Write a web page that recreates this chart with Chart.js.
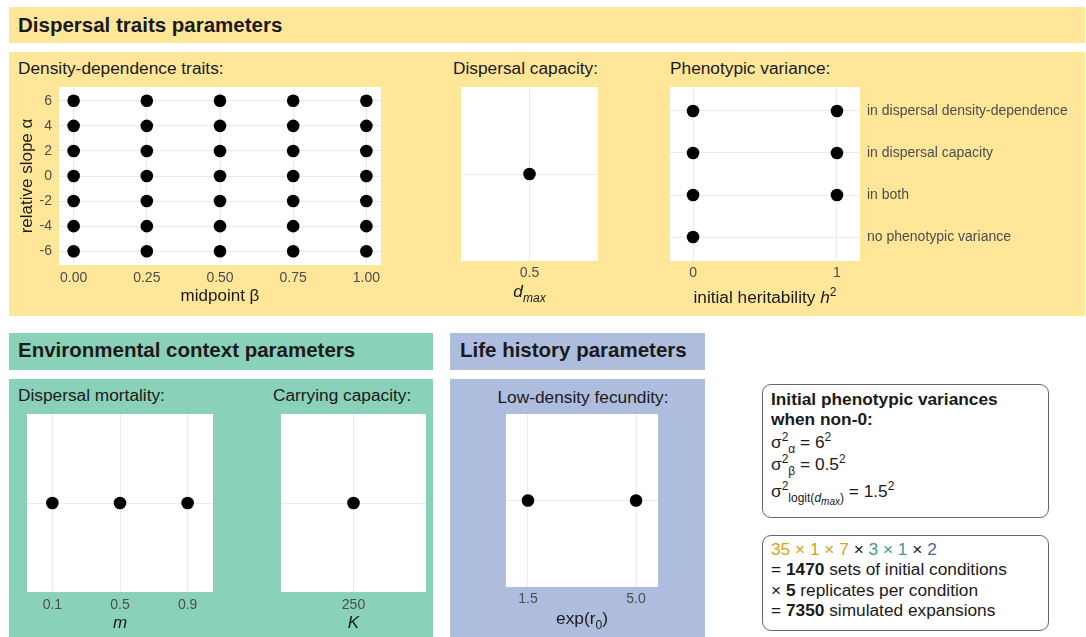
<!DOCTYPE html>
<html>
<head>
<meta charset="utf-8">
<script src="https://cdn.jsdelivr.net/npm/chart.js@4.4.1/dist/chart.umd.min.js"></script>
<style>
  body { margin: 0; background: #fff; }
  #page { position: relative; width: 1086px; height: 637px; overflow: hidden;
          font-family: "Liberation Sans", Arial, sans-serif; color: #1a1a1a; }
  .band { position: absolute; }
  .yellow { background: #FFE699; }
  .green { background: #89D1B9; }
  .blue { background: #AEBCDE; }
  .txt { position: absolute; white-space: nowrap; font-size: 17.3px; line-height: 20px; }
  .head { font-weight: bold; font-size: 20.5px; line-height: 24px; }
  .chart { position: absolute; }
  .box { position: absolute; border: 1.3px solid #666; border-radius: 9px; background: #fff; }
  .sup { font-size: 12px; position: relative; top: -7px; }
  .sub { font-size: 12px; position: relative; top: 5px; }
  .subsub { font-size: 10px; position: relative; top: 3px; }
  .gold { color: #D3A326; }
  .teal { color: #38A27B; }
  .navy { color: #4764A8; }
</style>
</head>
<body>
<div id="page">
  <!-- coloured backgrounds -->
  <div class="band yellow" style="left:9px;top:7px;width:1076px;height:36px"></div>
  <div class="band yellow" style="left:9px;top:52px;width:1076px;height:264px"></div>
  <div class="band green" style="left:9px;top:333px;width:424px;height:37px"></div>
  <div class="band green" style="left:9px;top:379px;width:424px;height:258px"></div>
  <div class="band blue" style="left:450px;top:333px;width:255px;height:37px"></div>
  <div class="band blue" style="left:450px;top:379px;width:255px;height:258px"></div>

  <!-- headings -->
  <div class="txt head" style="left:18px;top:13px">Dispersal traits parameters</div>
  <div class="txt head" style="left:18px;top:338px">Environmental context parameters</div>
  <div class="txt head" style="left:460px;top:338px">Life history parameters</div>

  <div class="txt" style="left:18px;top:58px">Density-dependence traits:</div>
  <div class="txt" style="left:453px;top:58px">Dispersal capacity:</div>
  <div class="txt" style="left:670px;top:58px">Phenotypic variance:</div>
  <div class="txt" style="left:18px;top:385px">Dispersal mortality:</div>
  <div class="txt" style="left:273px;top:385px">Carrying capacity:</div>
  <div class="txt" style="left:450px;width:266px;text-align:center;top:387px">Low-density fecundity:</div>

  <!-- charts -->
  <div class="chart" id="wrapAlpha"><canvas id="alphaChart"></canvas></div>
  <div class="chart" id="wrapDmax"><canvas id="dmaxChart"></canvas></div>
  <div class="chart" id="wrapH2"><canvas id="h2Chart"></canvas></div>
  <div class="chart" id="wrapM"><canvas id="mChart"></canvas></div>
  <div class="chart" id="wrapK"><canvas id="kChart"></canvas></div>
  <div class="chart" id="wrapR0"><canvas id="r0Chart"></canvas></div>

  <!-- axis titles that need sub/superscripts -->
  <div class="txt" style="left:461px;width:137px;text-align:center;top:281px"><i>d</i><span class="sub"><i>max</i></span></div>
  <div class="txt" style="left:640px;width:250px;text-align:center;top:287px">initial heritability <i>h</i><span class="sup">2</span></div>
  <div class="txt" style="left:506px;width:152px;text-align:center;top:608px">exp(r<span class="sub">0</span>)</div>

  <!-- text boxes -->
  <div class="box" style="left:762px;top:384px;width:285px;height:132px"></div>
  <div class="txt" style="left:771px;top:389px;font-weight:bold">Initial phenotypic variances</div>
  <div class="txt" style="left:771px;top:409px;font-weight:bold">when non-0:</div>
  <div class="txt" style="left:771px;top:432px">σ<span class="sup">2</span><span class="sub">α</span> = 6<span class="sup">2</span></div>
  <div class="txt" style="left:771px;top:454px">σ<span class="sup">2</span><span class="sub">β</span> = 0.5<span class="sup">2</span></div>
  <div class="txt" style="left:771px;top:481px">σ<span class="sup">2</span><span class="sub">logit(<i>d</i><span class="subsub"><i>max</i></span>)</span> = 1.5<span class="sup">2</span></div>

  <div class="box" style="left:762px;top:535px;width:285px;height:94px"></div>
  <div class="txt" style="left:771px;top:539px"><span class="gold">35 × 1 × 7</span> × <span class="teal">3 × 1</span> × <span class="navy">2</span></div>
  <div class="txt" style="left:771px;top:559px">= <b>1470</b> sets of initial conditions</div>
  <div class="txt" style="left:771px;top:580px">× <b>5</b> replicates per condition</div>
  <div class="txt" style="left:771px;top:600px">= <b>7350</b> simulated expansions</div>
</div>

<script>
// ===== Data =====
const betaValues = [0, 0.25, 0.5, 0.75, 1];
const alphaValues = [-6, -4, -2, 0, 2, 4, 6];
const betaTickLabels = ["0.00", "0.25", "0.50", "0.75", "1.00"];

const dmaxValues = [0.5];
const dmaxTickLabels = ["0.5"];

const varianceLevels = ["no phenotypic variance", "in both", "in dispersal capacity", "in dispersal density-dependence"];
const heritabilityByLevel = [[0], [0, 1], [0, 1], [0, 1]];
const heritabilityTicks = [0, 1];

const mortalityValues = [0.1, 0.5, 0.9];
const mortalityTickLabels = ["0.1", "0.5", "0.9"];

const capacityValues = [250];
const capacityTickLabels = ["250"];

const fecundityValues = [1.5, 5.0];
const fecundityTickLabels = ["1.5", "5.0"];

// ===== Layout helpers =====
const FONT = '"Liberation Sans", Arial, sans-serif';

function place(id, l, t, r, b, leftW, rightW, bottomH) {
  const el = document.getElementById(id);
  el.style.left = (l - leftW) + "px";
  el.style.top = (t - 1) + "px";
  el.style.width = (r - l + leftW + rightW) + "px";
  el.style.height = (b - t + bottomH + 1) + "px";
}

place("wrapAlpha", 59, 87, 381, 265, 42, 0, 42);
place("wrapDmax", 461, 87, 598, 261, 0, 0, 22);
place("wrapH2", 670, 87, 860, 261, 0, 222, 22);
place("wrapM", 27, 414, 213, 592, 0, 0, 41);
place("wrapK", 281, 414, 426, 592, 0, 0, 41);
place("wrapR0", 506, 414, 658, 587, 0, 0, 22);

// white panel behind the grid
const panelBg = {
  id: "panelBg",
  beforeDraw(chart) {
    const { ctx, chartArea: a } = chart;
    ctx.save();
    ctx.fillStyle = "#fff";
    ctx.fillRect(a.left, a.top, a.right - a.left, a.bottom - a.top);
    ctx.restore();
  }
};

function axis(o) {
  return {
    type: "linear",
    position: o.position,
    min: o.min,
    max: o.max,
    afterBuildTicks: s => { s.ticks = o.ticks.map(v => ({ value: v })); },
    afterFit: s => {
      if (o.position === "bottom") s.height = o.size; else s.width = o.size;
      // labels never reach the panel edges here, so no extra room is needed
      s.paddingTop = s.paddingBottom = s.paddingLeft = s.paddingRight = 0;
    },
    grid: { color: "#EBEBEB", lineWidth: 1, drawTicks: false },
    border: { display: false },
    ticks: {
      display: !!o.labels,
      autoSkip: false,
      maxRotation: 0,
      padding: o.padding || 4,
      color: "#4D4D4D",
      font: { family: FONT, size: 14 },
      callback: (v, i) => o.labels ? o.labels[i] : ""
    },
    title: {
      display: !!o.title,
      text: o.title || "",
      color: "#1a1a1a",
      padding: 0,
      font: { family: FONT, size: 17, style: o.italic ? "italic" : "normal" }
    }
  };
}

function scatterPanel(canvasId, points, xOpts, yOpts) {
  return new Chart(document.getElementById(canvasId), {
    type: "scatter",
    data: {
      datasets: [{
        data: points,
        backgroundColor: "#000",
        borderColor: "#000",
        borderWidth: 0,
        pointRadius: 6.3,
        pointHoverRadius: 6.3
      }]
    },
    options: {
      responsive: true,
      maintainAspectRatio: false,
      animation: false,
      layout: { autoPadding: false, padding: { top: 1, left: 0, right: 0, bottom: 0 } },
      plugins: { legend: { display: false }, tooltip: { enabled: false } },
      scales: {
        x: axis(Object.assign({ position: "bottom" }, xOpts)),
        y: axis(Object.assign({ position: "left" }, yOpts))
      }
    },
    plugins: [panelBg]
  });
}

// ===== Charts =====
scatterPanel("alphaChart",
  betaValues.flatMap(b => alphaValues.map(a => ({ x: b, y: a }))),
  { min: -0.05, max: 1.05, ticks: betaValues, labels: betaTickLabels, size: 42, padding: 5, title: "midpoint β" },
  { min: -7.1, max: 7.1, ticks: alphaValues, labels: alphaValues.map(String), size: 42, padding: 7, title: "relative slope α" });

scatterPanel("dmaxChart",
  dmaxValues.map(d => ({ x: d, y: 0 })),
  { min: 0.4, max: 0.6, ticks: dmaxValues, labels: dmaxTickLabels, size: 22, padding: 4 },
  { min: -1, max: 1, ticks: [0], size: 0 });

scatterPanel("h2Chart",
  heritabilityByLevel.flatMap((hs, i) => hs.map(h => ({ x: h, y: i + 1 }))),
  { min: -0.16, max: 1.16, ticks: heritabilityTicks, labels: heritabilityTicks.map(String), size: 22, padding: 4 },
  { position: "right", min: 0.43, max: 4.57, ticks: [1, 2, 3, 4], labels: varianceLevels, size: 222, padding: 7 });

scatterPanel("mChart",
  mortalityValues.map(m => ({ x: m, y: 0 })),
  { min: -0.05, max: 1.05, ticks: mortalityValues, labels: mortalityTickLabels, size: 41, padding: 5, title: "m", italic: true },
  { min: -1, max: 1, ticks: [0], size: 0 });

scatterPanel("kChart",
  capacityValues.map(k => ({ x: k, y: 0 })),
  { min: 240, max: 260, ticks: capacityValues, labels: capacityTickLabels, size: 41, padding: 5, title: "K", italic: true },
  { min: -1, max: 1, ticks: [0], size: 0 });

scatterPanel("r0Chart",
  fecundityValues.map(r => ({ x: r, y: 0 })),
  { min: 0.79, max: 5.71, ticks: fecundityValues, labels: fecundityTickLabels, size: 22, padding: 4 },
  { min: -1, max: 1, ticks: [0], size: 0 });
</script>
</body>
</html>
